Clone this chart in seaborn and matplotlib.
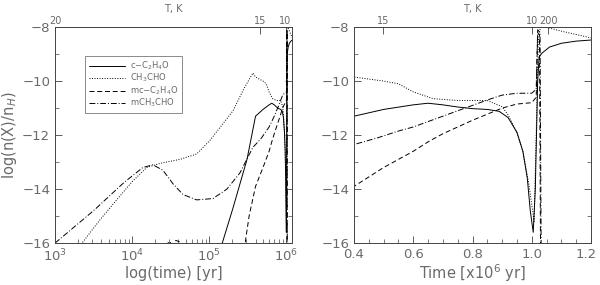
import matplotlib
matplotlib.use("Agg")
import matplotlib.pyplot as plt
import matplotlib.transforms as mtransforms
import numpy as np
import pandas as pd
import seaborn as sns
from matplotlib.ticker import MultipleLocator, LogLocator, NullFormatter

# time in units of 10^6 yr, abundances as log10(n(X)/n_H)
T_SOLID = [0.10, 0.148, 0.204, 0.31, 0.40, 0.50, 0.60, 0.65, 0.70, 0.75, 0.80, 0.85,
           0.89, 0.92, 0.95, 0.97, 0.985, 0.995, 1.005, 1.012, 1.02, 1.025, 1.035,
           1.06, 1.10, 1.15, 1.20]
Y_SOLID = [-17.5, -16.0, -14.7, -12.9, -11.3, -11.05, -10.88, -10.82, -10.88, -10.96,
           -11.02, -11.05, -11.12, -11.35, -11.9, -12.6, -13.6, -14.8, -15.6, -14.0,
           -10.0, -9.1, -8.96, -8.74, -8.6, -8.52, -8.48]

T_DOT = [0.0016, 0.00224, 0.0038, 0.0063, 0.0102, 0.0155, 0.0229, 0.0417, 0.069,
         0.102, 0.204, 0.28, 0.37, 0.40, 0.50, 0.55, 0.60, 0.667, 0.75, 0.85, 0.90,
         0.92, 0.95, 0.97, 0.99, 1.008, 1.015, 1.022, 1.03, 1.10, 1.20]
Y_DOT = [-16.8, -16.0, -15.15, -14.4, -13.7, -13.2, -13.05, -12.9, -12.7,
         -12.2, -11.1, -10.3, -9.7, -9.85, -10.0, -10.1, -10.4, -10.65, -10.72, -10.72,
         -10.95, -11.25, -11.9, -12.6, -13.8, -15.2, -12.0, -8.5, -7.95, -8.15, -8.4]

T_DASH = [0.026, 0.030, 0.033, 0.037, 0.041, 0.045, 0.050, 0.25, 0.28, 0.30, 0.33,
          0.36, 0.40, 0.50, 0.60, 0.65, 0.70, 0.80, 0.90, 0.95, 1.00, 1.015, 1.02,
          1.026, 1.03]
Y_DASH = [-16.4, -15.92, -16.05, -15.9, -15.95, -16.1, -16.6, -17.5, -16.5, -15.8,
          -15.0, -14.5, -13.9, -13.2, -12.6, -12.25, -11.95, -11.45, -11.0, -10.85,
          -10.8, -10.6, -8.2, -8.3, -17.0]

T_DASHDOT = [0.0010, 0.00316, 0.0079, 0.0138, 0.0186, 0.0251, 0.0339, 0.0457, 0.069,
             0.112, 0.17, 0.251, 0.37, 0.40, 0.48, 0.55, 0.60, 0.70, 0.80, 0.85, 0.90,
             0.95, 1.00, 1.015, 1.02, 1.028, 1.032]
Y_DASHDOT = [-16.0, -14.8, -13.75, -13.2, -13.1, -13.3, -13.8, -14.2, -14.4,
             -14.35, -14.0, -13.4, -12.45, -12.35, -12.1, -11.85, -11.7, -11.3, -10.9,
             -10.7, -10.52, -10.45, -10.45, -10.3, -8.1, -8.2, -17.0]

LABELS = ["c$-$C$_2$H$_4$O", "CH$_3$CHO", "mc$-$C$_2$H$_4$O", "mCH$_3$CHO"]
STYLES = ["-", (0, (1, 1.6)), (0, (5, 3)), (0, (6, 2, 1, 2))]

# temperature axis (top)
T_TOP_LEFT_POS = [1e3, 4.6e5, 9.8e5]
T_TOP_LEFT_LAB = ["20", "15", "10"]
T_TOP_RIGHT_POS = [0.498, 1.0, 1.055]
T_TOP_RIGHT_LAB = ["15", "10", "200"]

RIGHT_TICKS = [0.4, 0.6, 0.8, 1.0, 1.2]
RIGHT_TICK_LAB = ["0.4", "0.6", "0.8", "1.0", "1.2"]

GREY = "#6a6a6a"

series = [(T_SOLID, Y_SOLID), (T_DOT, Y_DOT), (T_DASH, Y_DASH), (T_DASHDOT, Y_DASHDOT)]

sns.set_theme(style="ticks")
plt.rcParams["font.family"] = ["DejaVu Sans"]
plt.rcParams.update({
    "axes.edgecolor": "#444444",
    "axes.linewidth": 0.7,
    "xtick.color": "#444444",
    "ytick.color": "#444444",
    "xtick.labelcolor": GREY,
    "ytick.labelcolor": GREY,
    "xtick.direction": "in",
    "ytick.direction": "in",
})

fig = plt.figure(figsize=(6.0, 2.85), dpi=100)
ax1 = fig.add_axes([0.0917, 0.147, 0.395, 0.758])
ax2 = fig.add_axes([0.59, 0.147, 0.395, 0.758])

for (t, y), lab, ls in zip(series, LABELS, STYLES):
    df = pd.DataFrame({"t": np.array(t) * 1e6, "y": y})
    sns.lineplot(data=df, x="t", y="y", ax=ax1, color="black", linewidth=0.7,
                 linestyle=ls, label=lab, sort=False, estimator=None)
    df2 = pd.DataFrame({"t": t, "y": y})
    sns.lineplot(data=df2, x="t", y="y", ax=ax2, color="black", linewidth=0.7,
                 linestyle=ls, sort=False, estimator=None, legend=False)

ax1.set_xscale("log")
ax1.set_xlim(1e3, 1.19e6)
ax2.set_xlim(0.4, 1.2)
for ax in (ax1, ax2):
    ax.set_ylim(-16, -8)
    ax.yaxis.set_major_locator(MultipleLocator(2))
    ax.yaxis.set_minor_locator(MultipleLocator(1))
    ax.tick_params(which="both", right=True, top=False, labelsize=9.5)
    ax.tick_params(which="major", length=5, width=0.6)
    ax.tick_params(which="minor", length=3, width=0.5)
    ax.set_ylabel("")

ax1.xaxis.set_major_locator(LogLocator(base=10, numticks=10))
ax1.xaxis.set_minor_locator(LogLocator(base=10, subs=np.arange(2, 10), numticks=20))
ax1.xaxis.set_minor_formatter(NullFormatter())
ax2.xaxis.set_minor_locator(MultipleLocator(0.05))
ax2.set_xticks(RIGHT_TICKS)
ax2.set_xticklabels(RIGHT_TICK_LAB)
# keep the last label inside the figure
last = ax2.get_xticklabels()[-1]
last.set_transform(last.get_transform()
                   + mtransforms.ScaledTranslation(-5 / 100, 0, fig.dpi_scale_trans))

ax1.set_xlabel("log(time) [yr]", fontsize=10.5, color=GREY, labelpad=1)
ax2.set_xlabel("Time [x10$^6$ yr]", fontsize=10.5, color=GREY, labelpad=1)
ax1.set_ylabel("log(n(X)/n$_H$)", fontsize=10.5, color=GREY, labelpad=2)

for ax, pos, lab in ((ax1, T_TOP_LEFT_POS, T_TOP_LEFT_LAB),
                     (ax2, T_TOP_RIGHT_POS, T_TOP_RIGHT_LAB)):
    top = ax.secondary_xaxis("top")
    top.set_xticks(pos)
    top.set_xticklabels(lab)
    top.xaxis.set_minor_locator(plt.NullLocator())
    top.tick_params(direction="in", length=5, width=0.6, labelsize=7, pad=1,
                    labelcolor=GREY)
    top.set_xlabel("T, K", fontsize=7, color=GREY, labelpad=3)

leg = ax1.legend(loc="upper left", bbox_to_anchor=(0.11, 0.885), fontsize=6,
                 frameon=True, fancybox=False, handlelength=4.4, handletextpad=0.6,
                 labelspacing=0.0, borderpad=0.4, edgecolor="#555555")
leg.get_frame().set_linewidth(0.6)
for txt in leg.get_texts():
    txt.set_color(GREY)

fig.savefig("out.png", dpi=100)
